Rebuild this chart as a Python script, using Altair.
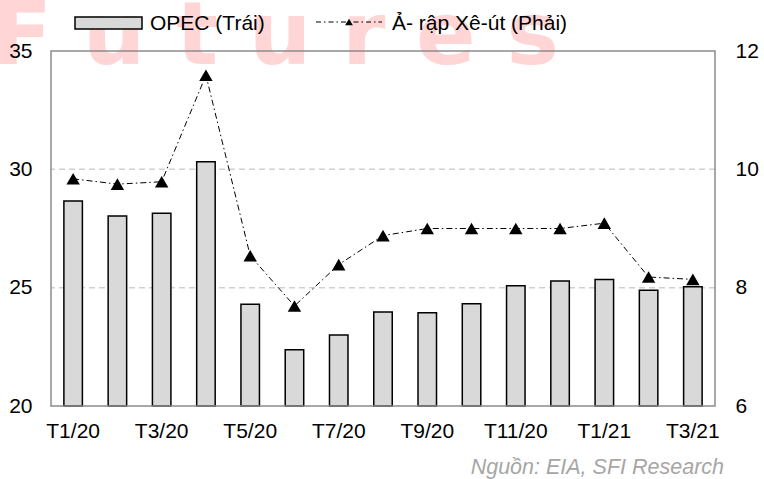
import altair as alt
import pandas as pd

# Monthly crude output, million barrels per day
months = ["T1/20", "T2/20", "T3/20", "T4/20", "T5/20", "T6/20", "T7/20", "T8/20",
          "T9/20", "T10/20", "T11/20", "T12/20", "T1/21", "T2/21", "T3/21"]
opec = [28.66, 28.03, 28.14, 30.32, 24.30, 22.38, 23.00, 23.97,
        23.94, 24.32, 25.08, 25.28, 25.34, 24.89, 25.04]
saudi = [9.84, 9.75, 9.79, 11.59, 8.54, 7.69, 8.39, 8.88,
         9.00, 9.00, 9.00, 9.00, 9.09, 8.18, 8.14]
shown_months = ["T1/20", "T3/20", "T5/20", "T7/20", "T9/20", "T11/20", "T1/21", "T3/21"]
left_ticks = [20, 25, 30, 35]
grid_values = [25, 30]
right_ticks = [6, 8, 10, 12]
series_names = ["OPEC (Trái)", "Ả- rập Xê-út (Phải)"]
source_note = "Nguồn: EIA, SFI Research"
brand = "F u t u r e s"

df = pd.DataFrame({"month": months, "opec": opec, "saudi": saudi})
one = pd.DataFrame({"k": [0]})

W, H = 664, 355
FONT = "Liberation Sans"
FS = 21

x_enc = alt.X(
    "month:N", sort=months,
    scale=alt.Scale(paddingInner=0.582, paddingOuter=0.291),
    axis=alt.Axis(values=shown_months, title=None, ticks=False, domain=False,
                  labelAngle=0, labelFontSize=FS, labelFont=FONT, labelColor="black",
                  labelPadding=14, grid=False, zindex=1),
)

# Brand watermark behind everything
watermark = alt.Chart(pd.DataFrame({"t": [brand]})).mark_text(
    align="left", baseline="alphabetic", fontSize=88, fontWeight="bold",
    font="DejaVu Sans", color="#ffd5d5"
).encode(x=alt.value(-59), y=alt.value(13), text="t:N")

left_scale = alt.Scale(domain=[20, 35], nice=False, zero=False)
left_axis = alt.Axis(values=left_ticks, title=None, ticks=False, domain=False, grid=False,
                     labelFontSize=FS, labelFont=FONT, labelColor="black",
                     labelPadding=19, zindex=1)

# Dashed horizontal guides sit under the bars
guides = alt.Chart(pd.DataFrame({"g": grid_values})).mark_rule(
    color="#d0d0d0", strokeWidth=1.5, strokeDash=[6, 4]
).encode(y=alt.Y("g:Q", scale=left_scale, axis=left_axis))

bars = alt.Chart(df).mark_bar(fill="#d9d9d9", stroke="black", strokeWidth=1.5).encode(
    x=x_enc,
    y=alt.Y("opec:Q", scale=left_scale, axis=left_axis),
    y2=alt.datum(20),
)
opec_layer = alt.layer(guides, bars)

frame = alt.Chart(one).mark_rect(fillOpacity=0, stroke="#8c8c8c", strokeWidth=1.5).encode(
    x=alt.value(0), x2=alt.value(W), y=alt.value(0), y2=alt.value(H)
)

y_right = alt.Y("saudi:Q",
                scale=alt.Scale(domain=[6, 12], nice=False, zero=False),
                axis=alt.Axis(orient="right", values=right_ticks, title=None, ticks=False,
                              domain=False, grid=False, labelFontSize=FS, labelFont=FONT,
                              labelColor="black", labelPadding=20, zindex=1))

line = alt.Chart(df).mark_line(color="black", strokeWidth=1, strokeDash=[6, 3, 1.5, 3]).encode(
    x=x_enc, y=y_right
)
points = alt.Chart(df).mark_point(shape="triangle-up", filled=True, size=180,
                                  color="black", opacity=1).encode(x=x_enc, y=y_right)
saudi_layer = alt.layer(line, points)

# Legend drawn above the plot
leg_rect = alt.Chart(one).mark_rect(fill="#d9d9d9", stroke="black", strokeWidth=1.5).encode(
    x=alt.value(24), x2=alt.value(91), y=alt.value(-34), y2=alt.value(-22)
)
leg_line = alt.Chart(one).mark_rule(color="black", strokeWidth=1, strokeDash=[5, 3, 1.5, 3]).encode(
    x=alt.value(265), x2=alt.value(331), y=alt.value(-29)
)
leg_tri = alt.Chart(one).mark_point(shape="triangle-up", filled=True, size=60,
                                    color="black", opacity=1).encode(
    x=alt.value(298), y=alt.value(-29)
)
leg_text1 = alt.Chart(pd.DataFrame({"t": [series_names[0]]})).mark_text(
    align="left", baseline="alphabetic", fontSize=FS, font=FONT, color="black"
).encode(x=alt.value(99), y=alt.value(-21), text="t:N")
leg_text2 = alt.Chart(pd.DataFrame({"t": [series_names[1]]})).mark_text(
    align="left", baseline="alphabetic", fontSize=FS, font=FONT, color="black"
).encode(x=alt.value(341), y=alt.value(-21), text="t:N")

note = alt.Chart(pd.DataFrame({"t": [source_note]})).mark_text(
    align="right", baseline="alphabetic", fontSize=21.5, font=FONT, fontStyle="italic",
    color="#a6a6a6"
).encode(x=alt.value(673), y=alt.value(423), text="t:N")

chart = alt.layer(
    watermark, opec_layer, frame, saudi_layer,
    leg_rect, leg_line, leg_tri, leg_text1, leg_text2, note
).resolve_scale(y="independent").properties(
    width=W, height=H,
    autosize=alt.AutoSizeParams(type="none"),
    padding={"left": 51, "top": 51, "right": 49, "bottom": 73},
    background="white",
).configure_view(stroke=None)

chart.save("out.html", embed_options={"renderer": "svg", "actions": False})
